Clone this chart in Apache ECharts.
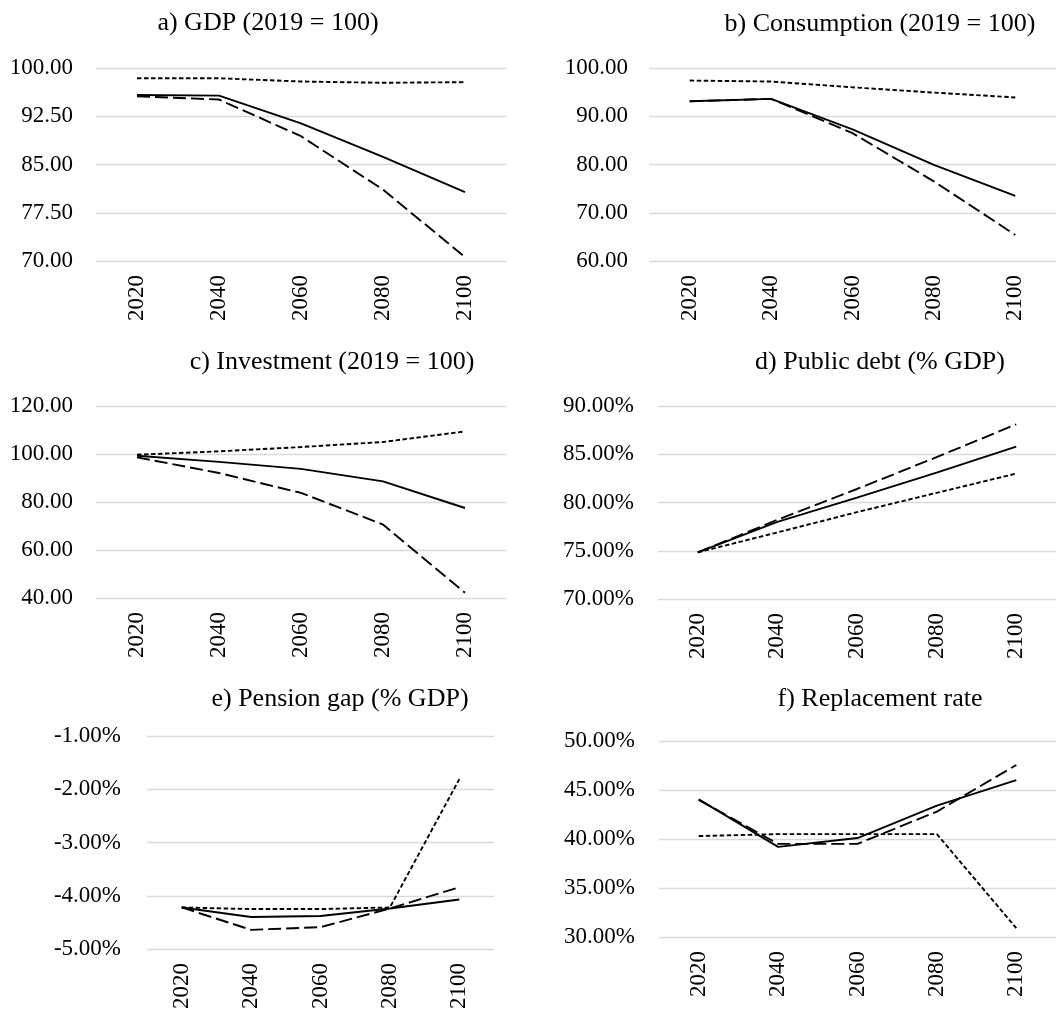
<!DOCTYPE html>
<html>
<head>
<meta charset="utf-8">
<style>
  html, body { margin: 0; padding: 0; background: #fff; }
  #chart { width: 1056px; height: 1012px; }
</style>
<script src="https://cdn.jsdelivr.net/npm/echarts@6/dist/echarts.min.js"></script>
</head>
<body>
<div id="chart"></div>
<script>
// Projection years shared by every panel
const years = ['2020', '2040', '2060', '2080', '2100'];

// a) GDP (2019 = 100)
const gdpScen1 = [95.8, 95.7, 91.4, 86.2, 80.7];
const gdpScen2 = [95.6, 95.1, 89.4, 81.1, 70.6];
const gdpScen3 = [98.4, 98.4, 97.9, 97.7, 97.8];

// b) Consumption (2019 = 100)
const consScen1 = [93.1, 93.6, 87.3, 79.9, 73.5];
const consScen2 = [93.1, 93.6, 86.5, 76.5, 65.4];
const consScen3 = [97.4, 97.2, 96.0, 94.9, 93.9];

// c) Investment (2019 = 100)
const invScen1 = [99.3, 96.7, 93.8, 88.6, 77.5];
const invScen2 = [98.6, 92.1, 83.8, 70.6, 42.2];
const invScen3 = [99.7, 101.1, 102.9, 105.0, 109.4];

// d) Public debt (% GDP)
const debtScen1 = [74.83, 78.0, 80.5, 83.1, 85.8];
const debtScen2 = [74.83, 78.2, 81.4, 84.7, 88.1];
const debtScen3 = [74.83, 76.9, 79.0, 81.0, 83.0];

// e) Pension gap (% GDP)
const gapScen1 = [-4.22, -4.40, -4.38, -4.24, -4.07];
const gapScen2 = [-4.22, -4.64, -4.59, -4.24, -3.84];
const gapScen3 = [-4.22, -4.25, -4.25, -4.22, -1.81];

// f) Replacement rate
const repScen1 = [44.05, 39.2, 40.1, 43.4, 46.0];
const repScen2 = [44.0, 39.5, 39.5, 42.8, 47.55];
const repScen3 = [40.3, 40.5, 40.5, 40.5, 30.9];

// Panel titles
const titles = [
  'a) GDP (2019 = 100)',
  'b) Consumption (2019 = 100)',
  'c) Investment (2019 = 100)',
  'd) Public debt (% GDP)',
  'e) Pension gap (% GDP)',
  'f) Replacement rate'
];

const FONT = '"Liberation Serif", "Times New Roman", serif';
const fmtNum = v => v.toFixed(2);
const fmtPct = v => v.toFixed(2) + '%';

// Layout of each small chart
const panels = [
  { title: titles[0], tx: 263, ty: 4,   grid: { left: 96,  top: 68,  width: 410, height: 193 }, min: 70, max: 100, interval: 7.5, fmt: fmtNum, lm: 23, data: [gdpScen1, gdpScen2, gdpScen3] },
  { title: titles[1], tx: 875, ty: 5,   grid: { left: 649, top: 68,  width: 410, height: 193 }, min: 60, max: 100, interval: 10,  fmt: fmtNum, lm: 21, data: [consScen1, consScen2, consScen3] },
  { title: titles[2], tx: 327, ty: 343, grid: { left: 96,  top: 406, width: 410, height: 192 }, min: 40, max: 120, interval: 20,  fmt: fmtNum, lm: 23, data: [invScen1, invScen2, invScen3] },
  { title: titles[3], tx: 875, ty: 343, grid: { left: 658, top: 406, width: 402, height: 193 }, min: 70, max: 90,  interval: 5,   fmt: fmtPct, lm: 24, data: [debtScen1, debtScen2, debtScen3] },
  { title: titles[4], tx: 335, ty: 680, grid: { left: 147, top: 736, width: 347, height: 214 }, min: -5, max: -1,  interval: 1,   fmt: fmtPct, lm: 26, data: [gapScen1, gapScen2, gapScen3] },
  { title: titles[5], tx: 875, ty: 680, grid: { left: 659, top: 741, width: 402, height: 196 }, min: 30, max: 50,  interval: 5,   fmt: fmtPct, lm: 24, data: [repScen1, repScen2, repScen3] }
];

// Line styles: solid, long dash, short dash
const lineStyles = [
  { type: 'solid', width: 1.9 },
  { type: [13, 5], width: 1.9 },
  { type: [4.5, 2.5], width: 1.9 }
];
const scenNames = ['Scenario 1', 'Scenario 2', 'Scenario 3'];

const option = {
  backgroundColor: '#ffffff',
  animation: false,
  title: panels.map(p => ({
    text: p.title,
    left: p.tx,
    top: p.ty,
    textAlign: 'center',
    textStyle: { fontFamily: FONT, fontSize: 26, fontWeight: 'normal', color: '#000', lineHeight: 28 }
  })),
  grid: panels.map(p => Object.assign({ containLabel: false }, p.grid)),
  xAxis: panels.map((p, i) => ({
    type: 'category',
    gridIndex: i,
    data: years,
    boundaryGap: true,
    axisLine: { show: false },
    axisTick: { show: false },
    axisLabel: { rotate: 90, margin: 14, fontFamily: FONT, fontSize: 23, color: '#000', interval: 0 }
  })),
  yAxis: panels.map((p, i) => ({
    type: 'value',
    gridIndex: i,
    min: p.min,
    max: p.max,
    interval: p.interval,
    axisLine: { show: false },
    axisTick: { show: false },
    splitLine: { show: true, lineStyle: { color: '#d9d9d9', width: 1.3 } },
    axisLabel: { margin: p.lm, fontFamily: FONT, fontSize: 23, color: '#000', formatter: p.fmt }
  })),
  series: []
};

panels.forEach((p, i) => {
  p.data.forEach((arr, k) => {
    option.series.push({
      name: scenNames[k],
      type: 'line',
      xAxisIndex: i,
      yAxisIndex: i,
      data: arr,
      showSymbol: false,
      symbol: 'none',
      lineStyle: Object.assign({ color: '#000' }, lineStyles[k]),
      z: 3 - k
    });
  });
});

const chart = echarts.init(document.getElementById('chart'), null, { renderer: 'canvas' });
chart.setOption(option);
</script>
</body>
</html>
